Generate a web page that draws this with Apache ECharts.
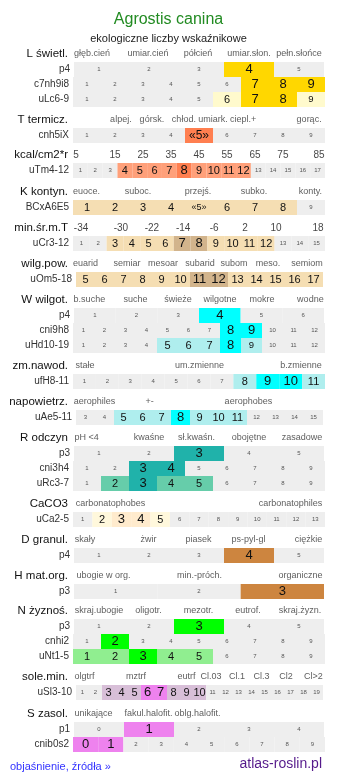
<!DOCTYPE html>
<html>
<head>
<meta charset="utf-8">
<script src="https://cdn.jsdelivr.net/npm/echarts@6/dist/echarts.min.js"></script>
<style>html,body{margin:0;padding:0;background:#fff}#c{width:337px;height:781px}</style>
</head>
<body>
<div id="c"></div>
<script>
// ---------- texts ----------
const titleText = 'Agrostis canina';
const subtitleText = 'ekologiczne liczby wskaźnikowe';
const footLeft = 'objaśnienie, źródła »';
const footRight = 'atlas-roslin.pl';

// ---------- section names and header tick labels ----------
const sectionNames = ['L świetl.', 'T termicz.', 'kcal/cm2*r', 'K kontyn.', 'min.śr.m.T', 'wilg.pow.', 'W wilgot.', 'zm.nawod.', 'napowietrz.', 'R odczyn', 'CaCO3', 'D granul.', 'H mat.org.', 'N żyznoś.', 'sole.min.', 'S zasol.'];
const hdrL = ['głęb.cień', 'umiar.cień', 'półcień', 'umiar.słon.', 'pełn.słońce'];
const hdrT = ['alpej.', 'górsk.', 'chłod.', 'umiark.', 'ciepl.+', 'gorąc.'];
const hdrKcal = ['5', '15', '25', '35', '45', '55', '65', '75', '85'];
const hdrK = ['euoce.', 'suboc.', 'przejś.', 'subko.', 'konty.'];
const hdrMin = ['-34', '-30', '-22', '-14', '-6', '2', '10', '18'];
const hdrWilg = ['euarid', 'semiar', 'mesoar', 'subarid', 'subom', 'meso.', 'semiom'];
const hdrW = ['b.suche', 'suche', 'świeże', 'wilgotne', 'mokre', 'wodne'];
const hdrZm = ['stałe', 'um.zmienne', 'b.zmienne'];
const hdrAe = ['aerophiles', '+-', 'aerophobes'];
const hdrR = ['pH <4', 'kwaśne', 'sł.kwaśn.', 'obojętne', 'zasadowe'];
const hdrCa = ['carbonatophobes', 'carbonatophiles'];
const hdrD = ['skały', 'żwir', 'piasek', 'ps-pyl-gl', 'ciężkie'];
const hdrH = ['ubogie w org.', 'min.-próch.', 'organiczne'];
const hdrN = ['skraj.ubogie', 'oligotr.', 'mezotr.', 'eutrof.', 'skraj.żyzn.'];
const hdrSl = ['olgtrf', 'mztrf', 'eutrf', 'Cl.03', 'Cl.1', 'Cl.3', 'Cl2', 'Cl>2'];
const hdrS = ['unikające', 'fakul.halofit.', 'oblg.halofit.'];

// ---------- row labels, cell labels (categories) and cell levels ----------
// level: 0 = not indicated, 1 = indicated (light), 2 = main value, 3 = fringe (light, smaller text)
const rowLabels = ['p4', 'c7nh9i8', 'uLc6-9', 'cnh5iX', 'uTm4-12', 'BCxA6E5', 'uCr3-12', 'uOm5-18', 'p4', 'cni9h8', 'uHd10-19', 'ufH8-11', 'uAe5-11', 'p3', 'cni3h4', 'uRc3-7', 'uCa2-5', 'p4', 'p3', 'p3', 'cnhi2', 'uNt1-5', 'uSl3-10', 'p1', 'cnib0s2'];
const cellsL1 = ['1', '2', '3', '4', '5'];
const cellsL2 = ['1', '2', '3', '4', '5', '6', '7', '8', '9'];
const cellsL3 = ['1', '2', '3', '4', '5', '6', '7', '8', '9'];
const cellsT = ['1', '2', '3', '4', '«5»', '6', '7', '8', '9'];
const cellsKcal = ['1', '2', '3', '4', '5', '6', '7', '8', '9', '10', '11', '12', '13', '14', '15', '16', '17'];
const cellsK = ['1', '2', '3', '4', '«5»', '6', '7', '8', '9'];
const cellsMin = ['1', '2', '3', '4', '5', '6', '7', '8', '9', '10', '11', '12', '13', '14', '15'];
const cellsWilg = ['5', '6', '7', '8', '9', '10', '11', '12', '13', '14', '15', '16', '17'];
const cellsW1 = ['1', '2', '3', '4', '5', '6'];
const cellsW2 = ['1', '2', '3', '4', '5', '6', '7', '8', '9', '10', '11', '12'];
const cellsW3 = ['1', '2', '3', '4', '5', '6', '7', '8', '9', '10', '11', '12'];
const cellsZm = ['1', '2', '3', '4', '5', '6', '7', '8', '9', '10', '11'];
const cellsAe = ['3', '4', '5', '6', '7', '8', '9', '10', '11', '12', '13', '14', '15'];
const cellsR1 = ['1', '2', '3', '4', '5'];
const cellsR2 = ['1', '2', '3', '4', '5', '6', '7', '8', '9'];
const cellsR3 = ['1', '2', '3', '4', '5', '6', '7', '8', '9'];
const cellsCa = ['1', '2', '3', '4', '5', '6', '7', '8', '9', '10', '11', '12', '13'];
const cellsD = ['1', '2', '3', '4', '5'];
const cellsH = ['1', '2', '3'];
const cellsN1 = ['1', '2', '3', '4', '5'];
const cellsN2 = ['1', '2', '3', '4', '5', '6', '7', '8', '9'];
const cellsN3 = ['1', '2', '3', '4', '5', '6', '7', '8', '9'];
const cellsSl = ['1', '2', '3', '4', '5', '6', '7', '8', '9', '10', '11', '12', '13', '14', '15', '16', '17', '18', '19'];
const cellsS1 = ['0', '1', '2', '3', '4'];
const cellsS2 = ['0', '1', '2', '3', '4', '5', '6', '7', '8', '9'];

const lvL1 = [0, 0, 0, 2, 0];
const lvL2 = [0, 0, 0, 0, 0, 0, 2, 2, 2];
const lvL3 = [0, 0, 0, 0, 0, 1, 2, 2, 3];
const lvT = [0, 0, 0, 0, 2, 0, 0, 0, 0];
const lvKcal = [0, 0, 0, 1, 1, 1, 1, 2, 1, 1, 1, 1, 0, 0, 0, 0, 0];
const lvK = [1, 1, 1, 1, 1, 1, 1, 1, 0];
const lvMin = [0, 0, 1, 1, 1, 1, 2, 2, 1, 1, 1, 1, 0, 0, 0];
const lvWilg = [1, 1, 1, 1, 1, 1, 2, 2, 1, 1, 1, 1, 1];
const lvW1 = [0, 0, 0, 2, 0, 0];
const lvW2 = [0, 0, 0, 0, 0, 0, 0, 2, 2, 0, 0, 0];
const lvW3 = [0, 0, 0, 0, 1, 1, 1, 2, 3, 0, 0, 0];
const lvZm = [0, 0, 0, 0, 0, 0, 0, 1, 2, 2, 1];
const lvAe = [0, 0, 1, 1, 1, 2, 1, 1, 1, 0, 0, 0, 0];
const lvR1 = [0, 0, 2, 0, 0];
const lvR2 = [0, 0, 2, 2, 0, 0, 0, 0, 0];
const lvR3 = [0, 1, 2, 1, 1, 0, 0, 0, 0];
const lvCa = [0, 1, 2, 2, 1, 0, 0, 0, 0, 0, 0, 0, 0];
const lvD = [0, 0, 0, 2, 0];
const lvH = [0, 0, 2];
const lvN1 = [0, 0, 2, 0, 0];
const lvN2 = [0, 2, 0, 0, 0, 0, 0, 0, 0];
const lvN3 = [1, 1, 2, 1, 1, 0, 0, 0, 0];
const lvSl = [0, 0, 1, 1, 1, 2, 2, 1, 1, 1, 0, 0, 0, 0, 0, 0, 0, 0, 0];
const lvS1 = [0, 2, 0, 0, 0];
const lvS2 = [2, 2, 0, 0, 0, 0, 0, 0, 0, 0];

// ---------- layout (positions / styles, kept apart from the data) ----------
const hdrPos = [
  [.075, .298, .496, .698, .897],
  [.190, .313, .440, .556, .675, .937],
  [.012, .167, .278, .389, .500, .611, .722, .833, .976],
  [.054, .258, .496, .718, .942],
  [.032, .190, .313, .437, .560, .683, .806, .972],
  [.050, .214, .357, .504, .639, .774, .929],
  [.065, .248, .417, .583, .750, .942],
  [.048, .502, .905],
  [.085, .304, .696],
  [.054, .302, .490, .698, .909],
  [.149, .863],
  [.048, .300, .498, .696, .935],
  [.121, .502, .903],
  [.103, .300, .498, .694, .901],
  [.046, .250, .450, .548, .651, .748, .845, .954],
  [.081, .300, .494]
];
const sectionTop = [62, 128, 163, 200, 236, 272, 308, 374, 410, 446, 512, 548, 584, 619, 685, 722];
const palette = [
  ['#FFD700', '#FFFACD'], ['#FF7F50', '#FFA07A'], ['#FF7F50', '#FFA07A'], ['#D2B48C', '#F5DEB3'],
  ['#D2B48C', '#F5DEB3'], ['#D2B48C', '#F5DEB3'], ['#00FFFF', '#AFEEEE'], ['#00FFFF', '#AFEEEE'],
  ['#00FFFF', '#AFEEEE'], ['#20B2AA', '#66CDAA'], ['#FFEBCD', '#FFF8DC'], ['#CD853F', '#F5DEB3'],
  ['#CD853F', '#F5DEB3'], ['#00FF00', '#90EE90'], ['#EE82EE', '#D8BFD8'], ['#EE82EE', '#D8BFD8']
];
const GRAY = '#EEEEEE';
const FONT = 'Liberation Sans, Arial, Helvetica, sans-serif';

const headers = [hdrL, hdrT, hdrKcal, hdrK, hdrMin, hdrWilg, hdrW, hdrZm, hdrAe, hdrR, hdrCa, hdrD, hdrH, hdrN, hdrSl, hdrS];
const numericHdr = [false, false, true, false, true, false, false, false, false, false, false, false, false, false, false, false];
// rows of each section: [cells, levels]
const sectionRows = [
  [[cellsL1, lvL1], [cellsL2, lvL2], [cellsL3, lvL3]],
  [[cellsT, lvT]],
  [[cellsKcal, lvKcal]],
  [[cellsK, lvK]],
  [[cellsMin, lvMin]],
  [[cellsWilg, lvWilg]],
  [[cellsW1, lvW1], [cellsW2, lvW2], [cellsW3, lvW3]],
  [[cellsZm, lvZm]],
  [[cellsAe, lvAe]],
  [[cellsR1, lvR1], [cellsR2, lvR2], [cellsR3, lvR3]],
  [[cellsCa, lvCa]],
  [[cellsD, lvD]],
  [[cellsH, lvH]],
  [[cellsN1, lvN1], [cellsN2, lvN2], [cellsN3, lvN3]],
  [[cellsSl, lvSl]],
  [[cellsS1, lvS1], [cellsS2, lvS2]]
];

function rowExtent(label) {
  if (label.length >= 7 && /^u(Om|Ae|Sl)/.test(label)) return [76, 323];
  if (/^p\d$/.test(label)) return [74, 324];
  return [73, 325];
}

const grid = [], xAxis = [], yAxis = [], series = [];
let gi = 0, ri = 0;
const hiddenAxisParts = { axisLine: { show: false }, axisTick: { show: false }, axisLabel: { show: false }, splitLine: { show: false } };

sectionRows.forEach((rows, s) => {
  const top = sectionTop[s];
  // header grid
  grid.push({ left: 73, width: 252, top: top - 14, height: 12 });
  xAxis.push({ type: 'value', min: 0, max: 1, gridIndex: gi, show: false });
  yAxis.push(Object.assign({
    type: 'value', min: 0, max: 1, gridIndex: gi,
    name: sectionNames[s], nameLocation: 'middle', nameGap: 5, nameRotate: 0,
    nameTextStyle: { align: 'right', verticalAlign: 'middle', fontSize: 11.5, color: '#111', fontFamily: FONT }
  }, hiddenAxisParts));
  series.push({
    type: 'scatter', xAxisIndex: gi, yAxisIndex: gi, symbolSize: 0, silent: true,
    data: headers[s].map((t, k) => ({ name: t, value: [hdrPos[s][k], 0.5] })),
    label: {
      show: true, position: 'inside', formatter: '{b}',
      fontSize: numericHdr[s] ? 10 : 9, color: numericHdr[s] ? '#111' : '#333', fontFamily: FONT
    }
  });
  gi++;
  rows.forEach((row, r) => {
    const [cells, lv] = row;
    const label = rowLabels[ri++];
    const ext = rowExtent(label);
    grid.push({ left: ext[0], width: ext[1] - ext[0], top: top + 15 * r, height: 15 });
    xAxis.push({ type: 'category', data: cells, gridIndex: gi, show: false, boundaryGap: true });
    yAxis.push(Object.assign({
      type: 'value', min: 0, max: 1, gridIndex: gi,
      name: label, nameLocation: 'middle', nameGap: 4, nameRotate: 0,
      nameTextStyle: { align: 'right', verticalAlign: 'middle', fontSize: 10, color: '#333', fontFamily: FONT }
    }, hiddenAxisParts));
    series.push({
      type: 'bar', xAxisIndex: gi, yAxisIndex: gi, barCategoryGap: '0%', barGap: '0%', silent: true,
      data: lv.map((l, k) => {
        const color = l === 2 ? palette[s][0] : (l === 1 || l === 3) ? palette[s][1] : GRAY;
        let size = l === 2 ? 13 : l === 1 ? 11 : l === 3 ? 9.5 : 6;
        if (cells[k].indexOf('«') >= 0 && l !== 0) size = l === 2 ? 12 : 9;
        return {
          value: 1,
          itemStyle: { color: color },
          label: { show: true, position: 'inside', formatter: '{b}', fontSize: size, color: l === 0 ? '#555' : '#111', fontFamily: FONT }
        };
      })
    });
    gi++;
  });
});

const option = {
  animation: false,
  textStyle: { fontFamily: FONT },
  title: [
    { text: titleText, left: 'center', top: 7, textStyle: { color: '#228B22', fontSize: 16, fontWeight: 'normal', fontFamily: FONT } },
    { text: subtitleText, left: 'center', top: 28, textStyle: { color: '#222', fontSize: 11, fontWeight: 'normal', fontFamily: FONT } },
    { text: footLeft, left: 5, top: 756, textStyle: { color: '#3333FF', fontSize: 11, fontWeight: 'normal', fontFamily: FONT } },
    { text: footRight, right: 10, top: 752, textStyle: { color: '#551A8B', fontSize: 14, fontWeight: 'normal', fontFamily: FONT } }
  ],
  grid: grid,
  xAxis: xAxis,
  yAxis: yAxis,
  series: series
};

const chart = echarts.init(document.getElementById('c'), null, { renderer: 'canvas' });
chart.setOption(option);
</script>
</body>
</html>
